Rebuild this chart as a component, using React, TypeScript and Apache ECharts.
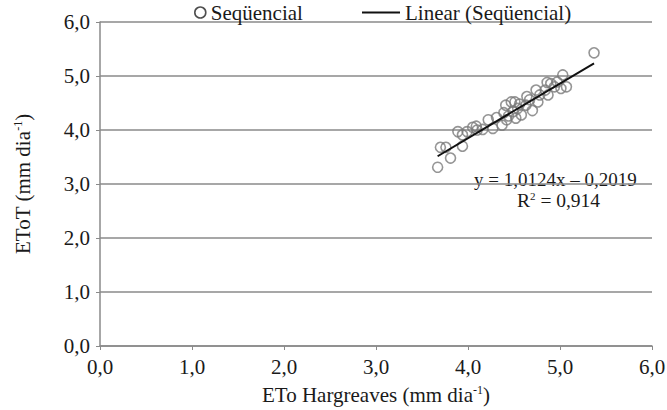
import React, { useEffect, useRef } from "react";
import * as echarts from "echarts";

// Reference-chart data: ETo Hargreaves (x) vs EToT (y), mm/day
const etoHargreaves = [
  3.67, 3.70, 3.76, 3.81, 3.89, 3.94, 3.94, 3.99, 4.05, 4.09, 4.10, 4.16,
  4.22, 4.27, 4.31, 4.37, 4.39, 4.41, 4.42, 4.44, 4.47, 4.51, 4.49, 4.52,
  4.54, 4.56, 4.58, 4.63, 4.64, 4.67, 4.70, 4.74, 4.76, 4.78, 4.84, 4.86,
  4.87, 4.90, 4.94, 4.97, 5.01, 5.03, 5.07, 5.37,
];
const etoT = [
  3.31, 3.68, 3.68, 3.48, 3.97, 3.91, 3.70, 3.97, 4.05, 4.07, 4.00, 4.01,
  4.19, 4.03, 4.23, 4.09, 4.32, 4.46, 4.19, 4.26, 4.52, 4.52, 4.34, 4.22,
  4.40, 4.48, 4.28, 4.46, 4.62, 4.56, 4.36, 4.74, 4.52, 4.65, 4.74, 4.88,
  4.65, 4.86, 4.80, 4.89, 4.77, 5.02, 4.80, 5.43,
];
const trendSlope = 1.0124;
const trendIntercept = -0.2019;
const rSquared = 0.914;
const axisMin = 0;
const axisMax = 6;
const axisStep = 1;
const seriesName = "Seqüencial";
const trendName = "Linear (Seqüencial)";

const FONT = "Liberation Serif";
const fmt = (v: number, d = 1) => v.toFixed(d).replace(".", ",");

export default function App() {
  const ref = useRef<HTMLDivElement>(null);
  useEffect(() => {
    document.body.style.margin = "0";
    if (!ref.current) return;
    const chart = echarts.init(ref.current, null, { renderer: "svg" });
    const points = etoHargreaves.map((x, i) => [x, etoT[i]]);
    const xMin = Math.min(...etoHargreaves);
    const xMax = Math.max(...etoHargreaves);
    const trend = [xMin, xMax].map((x) => [x, trendSlope * x + trendIntercept]);
    const slopeTxt = fmt(trendSlope, 4);
    const intTxt = fmt(Math.abs(trendIntercept), 4);
    const sign = trendIntercept < 0 ? "–" : "+";

    const supRich = {
      a: { fontFamily: FONT, fontSize: 21, color: "#1a1a1a" },
      s: { fontFamily: FONT, fontSize: 12, color: "#1a1a1a", verticalAlign: "top", padding: [0, 0, 10, 0] },
    };

    chart.setOption({
      animation: false,
      textStyle: { fontFamily: FONT },
      grid: { left: 100, right: 15, top: 22, bottom: 64, outerBoundsMode: "none" },
      legend: [
        {
          data: [{ name: seriesName, icon: "circle" }],
          left: 189,
          top: -3,
          itemWidth: 11,
          itemHeight: 11,
          itemGap: 6,
          itemStyle: { color: "rgba(0,0,0,0)", borderColor: "#222", borderWidth: 1.6 },
          textStyle: { fontFamily: FONT, fontSize: 21, color: "#1a1a1a" },
        },
        {
          data: [{ name: trendName, icon: "rect" }],
          left: 357,
          top: -3,
          itemWidth: 38,
          itemHeight: 2,
          itemGap: 6,
          itemStyle: { color: "#111" },
          textStyle: { fontFamily: FONT, fontSize: 21, color: "#1a1a1a" },
        },
      ],
      xAxis: {
        type: "value",
        min: axisMin,
        max: axisMax,
        interval: axisStep,
        name: `{a|ETo Hargreaves (mm dia}{s|-1}{a|)}`,
        nameLocation: "middle",
        nameGap: 38,
        nameTextStyle: { rich: supRich },
        axisLine: { show: true, lineStyle: { color: "#8a8a8a", width: 1.5 } },
        axisTick: { show: true, length: 4, inside: false, lineStyle: { color: "#8a8a8a" } },
        axisLabel: { formatter: (v: number) => fmt(v), fontFamily: FONT, fontSize: 21, color: "#1a1a1a", margin: 10 },
        splitLine: { show: false },
      },
      yAxis: {
        type: "value",
        min: axisMin,
        max: axisMax,
        interval: axisStep,
        name: `{a|EToT (mm dia}{s|-1}{a|)}`,
        nameLocation: "middle",
        nameGap: 66,
        nameRotate: 90,
        nameTextStyle: { rich: supRich },
        axisLine: { show: true, lineStyle: { color: "#8a8a8a", width: 1.5 } },
        axisTick: { show: true, length: 4, lineStyle: { color: "#8a8a8a" } },
        axisLabel: { formatter: (v: number) => fmt(v), fontFamily: FONT, fontSize: 21, color: "#1a1a1a", margin: 10 },
        splitLine: { show: true, lineStyle: { color: "#8a8a8a", width: 1.5 } },
      },
      series: [
        {
          name: seriesName,
          type: "scatter",
          data: points,
          symbol: "circle",
          symbolSize: 10,
          itemStyle: { color: "rgba(0,0,0,0)", borderColor: "#7a7a7a", borderWidth: 1.6 },
          z: 2,
        },
        {
          name: trendName,
          type: "line",
          data: trend,
          symbol: "none",
          lineStyle: { color: "#111", width: 2 },
          itemStyle: { color: "#111" },
          z: 3,
        },
      ],
      graphic: [
        {
          type: "text",
          left: 474,
          top: 170,
          style: {
            text: `y = ${slopeTxt}x ${sign} ${intTxt}`,
            fontFamily: FONT,
            fontSize: 19,
            fill: "#1a1a1a",
          },
        },
        {
          type: "text",
          left: 517,
          top: 190,
          style: {
            text: `{a|R}{s|2}{a| = ${fmt(rSquared, 3)}}`,
            rich: {
              a: { fontFamily: FONT, fontSize: 19.5, fill: "#1a1a1a" },
              s: { fontFamily: FONT, fontSize: 11, fill: "#1a1a1a", verticalAlign: "top", padding: [0, 0, 10, 0] },
            },
          },
        },
      ],
    });
    return () => chart.dispose();
  }, []);
  return <div ref={ref} style={{ width: 667, height: 410 }} />;
}
